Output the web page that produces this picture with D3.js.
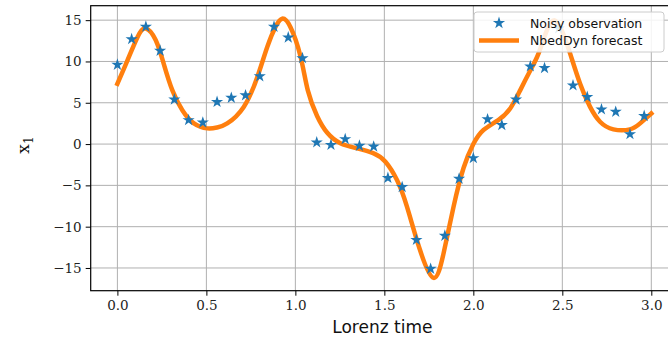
<!DOCTYPE html>
<html>
<head>
<meta charset="utf-8">
<script src="https://cdn.jsdelivr.net/npm/d3@7"></script>
<style>
  body { margin: 0; background: #fff; }
  svg { display: block; overflow: hidden; }
</style>
</head>
<body>
<script>
// noisy observations, every 0.08 Lorenz time units
const obsTimes = [0.00, 0.08, 0.16, 0.24, 0.32, 0.40, 0.48, 0.56, 0.64, 0.72,
                  0.80, 0.88, 0.96, 1.04, 1.12, 1.20, 1.28, 1.36, 1.44, 1.52,
                  1.60, 1.68, 1.76, 1.84, 1.92, 2.00, 2.08, 2.16, 2.24, 2.32,
                  2.40, 2.48, 2.56, 2.64, 2.72, 2.80, 2.88, 2.96];
const obsValues = [9.6, 12.7, 14.2, 11.3, 5.4, 2.9, 2.6, 5.1, 5.6, 5.9,
                   8.2, 14.2, 12.9, 10.4, 0.2, -0.1, 0.6, -0.2, -0.3, -4.1,
                   -5.2, -11.6, -15.1, -11.1, -4.2, -1.7, 3.0, 2.3, 5.4, 9.4,
                   9.2, 14.0, 7.1, 5.7, 4.2, 3.9, 1.2, 3.4];

// forecast curve
const fcTimes = [0.00, 0.056, 0.112, 0.159, 0.215, 0.26, 0.309, 0.365, 0.43, 0.505,
                 0.56, 0.617, 0.71, 0.786, 0.842, 0.888, 0.926, 0.972, 1.029, 1.07,
                 1.122, 1.178, 1.253, 1.347, 1.44, 1.506, 1.571, 1.627, 1.70, 1.777,
                 1.833, 1.889, 1.945, 2.00, 2.057, 2.14, 2.207, 2.263, 2.32, 2.366,
                 2.41, 2.455, 2.50, 2.544, 2.60, 2.656, 2.712, 2.787, 2.88, 2.937, 3.00];
const fcValues = [7.3, 10.1, 12.9, 14.0, 12.6, 9.75, 6.5, 4.1, 2.5, 1.9,
                  2.0, 2.5, 4.5, 8.1, 11.75, 14.17, 15.18, 14.17, 10.6, 6.5,
                  3.4, 1.4, 0.1, -0.52, -1.12, -2.14, -4.35, -7.57, -12.8, -16.2,
                  -13.2, -7.57, -2.9, 0.0, 1.7, 2.9, 4.3, 6.5, 8.9, 10.95,
                  13.6, 15.0, 13.6, 10.95, 7.3, 4.5, 2.7, 1.78, 1.78, 2.5, 3.7];

const xTicks = [0, 0.5, 1.0, 1.5, 2.0, 2.5, 3.0],
      yTicks = [-15, -10, -5, 0, 5, 10, 15];

const legendLabels = ['Noisy observation', 'NbedDyn forecast'];

const width = 668,
      height = 339,
      plotLeft = 90.7,
      plotRight = 678,
      plotTop = 5.7,
      plotBottom = 290.7;

const blue = '#1f77b4',
      orange = '#ff7f0e',
      serif = '"DejaVu Serif", "Liberation Serif", serif',
      sans = '"DejaVu Sans", sans-serif';

const x = d3.scaleLinear().domain([-0.15, 3.15]).range([plotLeft, plotRight]),
      y = d3.scaleLinear().domain([-17.75, 16.75]).range([plotBottom, plotTop]);

const svg = d3.select('body')
              .append('svg')
              .attr('width', width)
              .attr('height', height);

// grid
svg.append('g')
   .selectAll('line')
   .data(xTicks)
   .enter()
   .append('line')
   .attr('x1', d => x(d)).attr('x2', d => x(d))
   .attr('y1', plotTop).attr('y2', plotBottom)
   .attr('stroke', '#b0b0b0')
   .attr('stroke-width', 1);

svg.append('g')
   .selectAll('line')
   .data(yTicks)
   .enter()
   .append('line')
   .attr('x1', plotLeft).attr('x2', plotRight)
   .attr('y1', d => y(d)).attr('y2', d => y(d))
   .attr('stroke', '#b0b0b0')
   .attr('stroke-width', 1);

// axes
const fmtX = d => d.toFixed(1),
      fmtY = d => (d < 0 ? '\u2212' + Math.abs(d) : String(d));

const xAxis = svg.append('g')
                 .attr('transform', `translate(0,${plotBottom})`)
                 .call(d3.axisBottom(x).tickValues(xTicks).tickFormat(fmtX)
                         .tickSize(5).tickPadding(5));

const yAxis = svg.append('g')
                 .attr('transform', `translate(${plotLeft},0)`)
                 .call(d3.axisLeft(y).tickValues(yTicks).tickFormat(fmtY)
                         .tickSize(5).tickPadding(4));

[xAxis, yAxis].forEach(function(ax) {
  ax.select('.domain').remove();
  ax.selectAll('.tick line').attr('stroke', '#000').attr('stroke-width', 1);
  ax.selectAll('.tick text')
    .style('font-family', serif)
    .style('font-size', '13.5px')
    .attr('fill', '#222');
});

// forecast line
const line = d3.line()
               .x(d => x(d[0]))
               .y(d => y(d[1]))
               .curve(d3.curveNatural);

svg.append('path')
   .datum(d3.zip(fcTimes, fcValues))
   .attr('d', line)
   .attr('fill', 'none')
   .attr('stroke', orange)
   .attr('stroke-width', 4.5)
   .attr('stroke-linecap', 'square');

// observations
const star = d3.symbol().type(d3.symbolStar).size(46);

svg.append('g')
   .selectAll('path')
   .data(d3.zip(obsTimes, obsValues))
   .enter()
   .append('path')
   .attr('d', star)
   .attr('transform', d => `translate(${x(d[0])},${y(d[1])})`)
   .attr('fill', blue);

// frame
svg.append('rect')
   .attr('x', plotLeft).attr('y', plotTop)
   .attr('width', plotRight - plotLeft).attr('height', plotBottom - plotTop)
   .attr('fill', 'none')
   .attr('stroke', '#000')
   .attr('stroke-width', 1.2);

// axis labels
svg.append('text')
   .attr('x', x(1.5) - 2)
   .attr('y', 333)
   .attr('text-anchor', 'middle')
   .style('font-family', sans)
   .style('font-size', '17px')
   .attr('fill', '#111')
   .text('Lorenz time');

const yLabel = svg.append('text')
                  .attr('transform', `translate(29,${y(0) + 1}) rotate(-90)`)
                  .attr('text-anchor', 'middle')
                  .style('font-family', serif)
                  .style('font-size', '17px')
                  .attr('fill', '#111');
yLabel.append('tspan').text('x');
yLabel.append('tspan').attr('dy', 4).style('font-size', '12px').text('1');

// legend
const legend = svg.append('g')
                  .attr('transform', 'translate(474,12)');

legend.append('rect')
      .attr('width', 190).attr('height', 40)
      .attr('rx', 3)
      .attr('fill', '#fff').attr('fill-opacity', 0.85)
      .attr('stroke', '#cccccc');

legend.append('path')
      .attr('d', star)
      .attr('transform', 'translate(25,11)')
      .attr('fill', blue);

legend.append('line')
      .attr('x1', 5).attr('x2', 45)
      .attr('y1', 28.5).attr('y2', 28.5)
      .attr('stroke', orange)
      .attr('stroke-width', 4.5);

legend.selectAll('text')
      .data(legendLabels)
      .enter()
      .append('text')
      .attr('x', 56)
      .attr('y', (d, i) => 15.5 + i * 17.5)
      .style('font-family', sans)
      .style('font-size', '12.5px')
      .attr('fill', '#111')
      .text(d => d);
</script>
</body>
</html>
